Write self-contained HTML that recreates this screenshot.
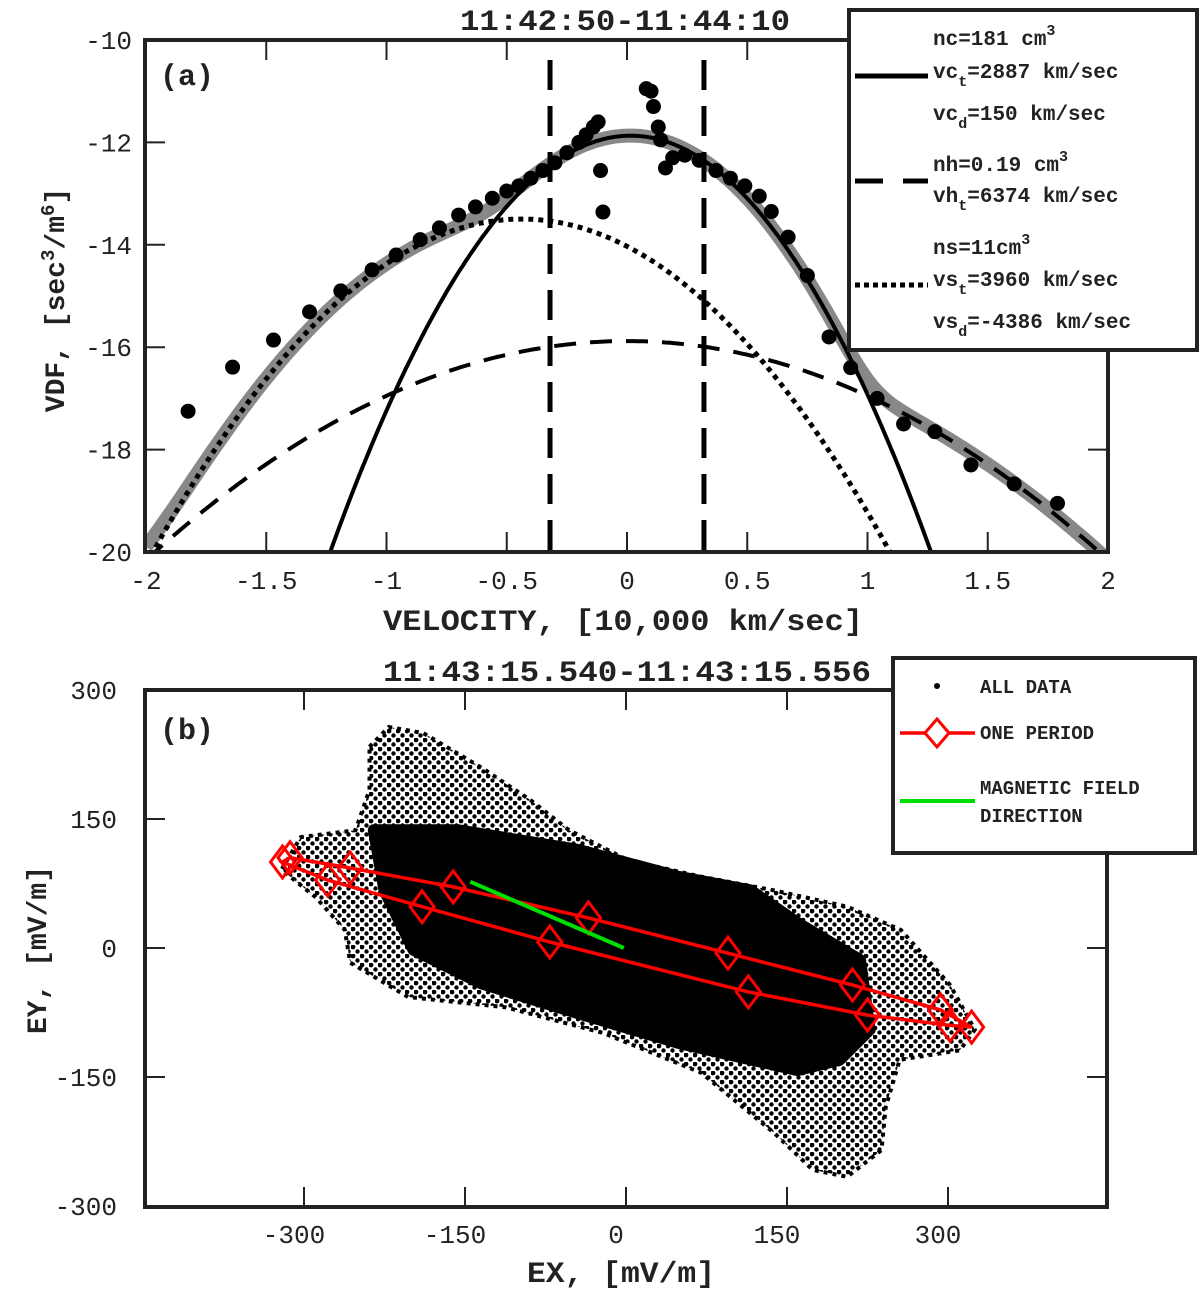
<!DOCTYPE html>
<html><head><meta charset="utf-8"><style>
body{margin:0;background:#fff;}
svg{display:block;}
.tk{font-family:"Liberation Mono",monospace;font-size:26px;fill:#222;}
.mono{font-family:"Liberation Mono",monospace;font-weight:bold;fill:#222;}
</style></head><body>
<svg id="s" width="1200" height="1292" viewBox="0 0 1200 1292" xmlns="http://www.w3.org/2000/svg">
<defs>
<pattern id="dots" width="9" height="9" patternUnits="userSpaceOnUse"><circle cx="2" cy="2" r="2.4" fill="#000"/><circle cx="6.5" cy="6.5" r="2.2" fill="#000"/></pattern>
<clipPath id="clipA"><rect x="145" y="40" width="963" height="512"/></clipPath>
<clipPath id="clipB"><rect x="145" y="690" width="962" height="517"/></clipPath>
</defs>
<g id="pa"></g>
<g id="pb"></g>
</svg>
<script>
// ---- Panel A data ----
const aXTicks=[-2,-1.5,-1,-0.5,0,0.5,1,1.5,2];
const aXTickLabels=["-2","-1.5","-1","-0.5","0","0.5","1","1.5","2"];
const aYTicks=[-10,-12,-14,-16,-18,-20];
const aYTickLabels=["-10","-12","-14","-16","-18","-20"];
const coreParams=[181,2887,150];   // n cm^-3, vt km/s, vd km/s
const hotParams=[0.19,6374,0];
const strahlParams=[11,3960,-4386];
const dataV=[-1.825,-1.64,-1.47,-1.32,-1.19,-1.06,-0.96,-0.86,-0.78,-0.70,-0.63,-0.56,-0.5,-0.45,-0.4,-0.35,-0.3,-0.25,-0.2,-0.17,-0.14,-0.12,-0.11,-0.10,0.08,0.1,0.11,0.13,0.14,0.16,0.19,0.24,0.3,0.37,0.43,0.49,0.55,0.6,0.67,0.75,0.84,0.93,1.04,1.15,1.28,1.43,1.61,1.79];
const dataF=[-17.25,-16.39,-15.86,-15.31,-14.9,-14.49,-14.2,-13.9,-13.67,-13.42,-13.26,-13.09,-12.95,-12.85,-12.7,-12.55,-12.4,-12.2,-12.0,-11.85,-11.7,-11.6,-12.55,-13.36,-10.95,-11.0,-11.3,-11.7,-11.95,-12.5,-12.3,-12.25,-12.35,-12.55,-12.7,-12.85,-13.05,-13.35,-13.85,-14.6,-15.8,-16.4,-17.0,-17.5,-17.65,-18.3,-18.67,-19.05];
const vLines=[-0.32,0.32];
// ---- Panel B data ----
const bXTicks=[-300,-150,0,150,300];
const bYTicks=[300,150,0,-150,-300];
const outerEX=[-239,-221,-189,-135,-89,-53,2,70,138,206,256,302,325,311,255,242,238,206,174,138,70,-21,-112,-203,-257,-262,-289,-321,-303,-252,-239];
const outerEY=[234,257,250,210,172,137,102,83,67,48,21,-43,-95,-119,-130,-185,-235,-266,-258,-215,-145,-99,-69,-57,-17,21,59,91,129,137,184];
const coreEX=[-235,-157,-44,48,116,160,218,227,199,160,48,-44,-135,-198,-225];
const coreEY=[137,137,114,83,67,29,-14,-95,-130,-142,-110,-76,-41,-2,67];
const periodEX=[-320,-278,-190,-71,114,225,302,322,293,211,95,-35,-161,-257,-313];
const periodEY=[100,79,48,7,-51,-78,-90,-92,-72,-43,-6,35,71,93,105];
const fieldEX=[-145,-2];
const fieldEY=[77,0];

const NS="http://www.w3.org/2000/svg";
function mk(tag,attrs,parent){const e=document.createElementNS(NS,tag);for(const k in attrs)e.setAttribute(k,attrs[k]);parent.appendChild(e);return e;}
function txt(s,attrs,parent){const e=mk('text',attrs,parent);e.textContent=s;return e;}

// ---- Panel A ----
const pa=document.getElementById('pa');
const ax=v=>627+v*240.5, ay=f=>40+(-10-f)*51.2;
function logMax(p,v){const n=p[0]*1e6,vt=p[1]*1e3,vd=p[2]*1e3;const vv=v*1e7;return n/(Math.pow(Math.PI,1.5)*vt*vt*vt)*Math.exp(-Math.pow((vv-vd)/vt,2));}
function curve(fn){let d='';for(let i=0;i<=400;i++){const v=-2+i*0.01;const f=Math.log10(fn(v));d+=(i?'L':'M')+ax(v).toFixed(1)+','+ay(f).toFixed(1);}return d;}
const cg=mk('g',{'clip-path':'url(#clipA)'},pa);
let p;
p=mk('path',{d:curve(v=>logMax(coreParams,v)+logMax(hotParams,v)+logMax(strahlParams,v)),fill:'none',stroke:'#888',"stroke-width":14},cg);

p=mk('path',{d:curve(v=>logMax(coreParams,v)),fill:'none',stroke:'#000',"stroke-width":4},cg);

p=mk('path',{d:curve(v=>logMax(hotParams,v)),fill:'none',stroke:'#000',"stroke-width":4,"stroke-dasharray":"22 14"},cg);

p=mk('path',{d:curve(v=>logMax(strahlParams,v)),fill:'none',stroke:'#000',"stroke-width":5,"stroke-dasharray":"5 5"},cg);

vLines.forEach(v=>{const l=mk('line',{x1:ax(v),x2:ax(v),y1:60,y2:552,stroke:'#000',"stroke-width":5,"stroke-dasharray":"30 16"},cg);
});
dataV.forEach((v,i)=>{const c=mk('circle',{cx:ax(v),cy:ay(dataF[i]),r:7.5,fill:'#000'},cg);
});
let r=mk('rect',{x:145,y:40,width:963,height:512,fill:'none',stroke:'#222',"stroke-width":4},pa);

aXTicks.forEach((v,i)=>{mk('line',{x1:ax(v),x2:ax(v),y1:552,y2:532,stroke:'#222',"stroke-width":2},pa);mk('line',{x1:ax(v),x2:ax(v),y1:40,y2:60,stroke:'#222',"stroke-width":2},pa);
const t=txt(aXTickLabels[i],{x:ax(v),y:589,"text-anchor":"middle",class:'tk'},pa);});
aYTicks.forEach((f,i)=>{mk('line',{x1:145,x2:165,y1:ay(f),y2:ay(f),stroke:'#222',"stroke-width":2},pa);mk('line',{x1:1088,x2:1108,y1:ay(f),y2:ay(f),stroke:'#222',"stroke-width":2},pa);
const t=txt(aYTickLabels[i],{x:132,y:ay(f)+9,"text-anchor":"end",class:'tk'},pa);});
</script>
<script>
(function(){
const pa=document.getElementById('pa');
pa.insertAdjacentHTML('beforeend',`
<text class="mono" x="460" y="30" font-size="30" textLength="330" lengthAdjust="spacingAndGlyphs">11:42:50-11:44:10</text>
<text class="mono" x="160" y="85" font-size="30">(a)</text>
<text class="mono" x="383" y="630" font-size="30" textLength="480" lengthAdjust="spacingAndGlyphs">VELOCITY, [10,000 km/sec]</text>
<text class="mono" font-size="28" text-anchor="middle" transform="translate(64,300) rotate(-90)">VDF, [sec<tspan dy="-10" font-size="19">3</tspan><tspan dy="10">/m</tspan><tspan dy="-10" font-size="19">6</tspan><tspan dy="10">]</tspan></text>
<g>
<rect x="849" y="10" width="348" height="340" fill="#fff" stroke="#222" stroke-width="4"/>
<line x1="855" y1="76" x2="928" y2="76" stroke="#000" stroke-width="5"/>
<line x1="855" y1="181" x2="928" y2="181" stroke="#000" stroke-width="5" stroke-dasharray="28 20"/>
<line x1="855" y1="285" x2="928" y2="285" stroke="#000" stroke-width="5" stroke-dasharray="5 4"/>
<g class="mono" font-size="21">
<text x="933" y="45">nc=181 cm<tspan dy="-10" font-size="15">3</tspan></text>
<text x="933" y="78">vc<tspan dy="8" font-size="15">t</tspan><tspan dy="-8">=2887 km/sec</tspan></text>
<text x="933" y="120">vc<tspan dy="8" font-size="15">d</tspan><tspan dy="-8">=150 km/sec</tspan></text>
<text x="933" y="171">nh=0.19 cm<tspan dy="-10" font-size="15">3</tspan></text>
<text x="933" y="202">vh<tspan dy="8" font-size="15">t</tspan><tspan dy="-8">=6374 km/sec</tspan></text>
<text x="933" y="254">ns=11cm<tspan dy="-10" font-size="15">3</tspan></text>
<text x="933" y="286">vs<tspan dy="8" font-size="15">t</tspan><tspan dy="-8">=3960 km/sec</tspan></text>
<text x="933" y="328">vs<tspan dy="8" font-size="15">d</tspan><tspan dy="-8">=-4386 km/sec</tspan></text>
</g></g>`);
})();
</script>
<script>
// ---- Panel B ----
(function(){
const pb=document.getElementById('pb');
const bx=e=>626+e*161/150, by=e=>948-e*129/150;
function mk(tag,attrs,parent){const e=document.createElementNS("http://www.w3.org/2000/svg",tag);for(const k in attrs)e.setAttribute(k,attrs[k]);parent.appendChild(e);return e;}
const g=mk('g',{'clip-path':'url(#clipB)'},pb);
const pts=(X,Y)=>X.map((x,i)=>bx(x).toFixed(1)+','+by(Y[i]).toFixed(1)).join(' ');
let e=mk('polygon',{points:pts(outerEX,outerEY),fill:'url(#dots)'},g);

e=mk('polygon',{points:pts(outerEX,outerEY),fill:'none',stroke:'#000',"stroke-width":4,"stroke-dasharray":"4 5"},g);

e=mk('polygon',{points:pts(coreEX,coreEY),fill:'#000',stroke:'#000',"stroke-width":12,"stroke-linejoin":"round"},g);

e=mk('polygon',{points:pts(periodEX,periodEY),fill:'none',stroke:'#f00',"stroke-width":3.5},g);

periodEX.forEach((x,i)=>{const cx=bx(x),cy=by(periodEY[i]);
const d=mk('polygon',{points:`${cx},${cy-16} ${cx+12},${cy} ${cx},${cy+16} ${cx-12},${cy}`,fill:'none',stroke:'#f00',"stroke-width":3},g);

});
e=mk('line',{x1:bx(fieldEX[0]),y1:by(fieldEY[0]),x2:bx(fieldEX[1]),y2:by(fieldEY[1]),stroke:'#0d0',"stroke-width":4},g);

e=mk('rect',{x:145,y:690,width:962,height:517,fill:'none',stroke:'#222',"stroke-width":4},pb);

bXTicks.forEach(v=>{mk('line',{x1:bx(v),x2:bx(v),y1:1207,y2:1187,stroke:'#222',"stroke-width":2},pb);mk('line',{x1:bx(v),x2:bx(v),y1:690,y2:710,stroke:'#222',"stroke-width":2},pb);
const t=mk('text',{x:bx(v)-10,y:1243,"text-anchor":"middle",class:'tk'},pb);t.textContent=String(v);
});
bYTicks.forEach(v=>{mk('line',{x1:145,x2:165,y1:by(v),y2:by(v),stroke:'#222',"stroke-width":2},pb);mk('line',{x1:1087,x2:1107,y1:by(v),y2:by(v),stroke:'#222',"stroke-width":2},pb);
const t=mk('text',{x:117,y:by(v)+9,"text-anchor":"end",class:'tk'},pb);t.textContent=String(v);
});
pb.insertAdjacentHTML('beforeend',`
<text class="mono" x="383" y="681" font-size="30" textLength="488" lengthAdjust="spacingAndGlyphs">11:43:15.540-11:43:15.556</text>
<text class="mono" x="160" y="739" font-size="30">(b)</text>
<text class="mono" x="527" y="1282" font-size="30" textLength="188" lengthAdjust="spacingAndGlyphs">EX, [mV/m]</text>
<text class="mono" font-size="28" text-anchor="middle" transform="translate(46,950) rotate(-90)">EY, [mV/m]</text>
<g>
<rect x="893" y="658" width="302" height="195" fill="#fff" stroke="#222" stroke-width="4"/>
<circle cx="937" cy="686" r="3" fill="#000"/>
<line x1="900" y1="733" x2="975" y2="733" stroke="#f00" stroke-width="3.5"/>
<polygon points="937,719 949,733 937,747 925,733" fill="#fff" stroke="#f00" stroke-width="3"/>
<line x1="900" y1="801" x2="975" y2="801" stroke="#0d0" stroke-width="4"/>
<g class="mono" font-size="19">
<text x="980" y="693">ALL DATA</text>
<text x="980" y="739">ONE PERIOD</text>
<text x="980" y="794">MAGNETIC FIELD</text>
<text x="980" y="822">DIRECTION</text>
</g></g>`);
})();
</script>
</body></html>
